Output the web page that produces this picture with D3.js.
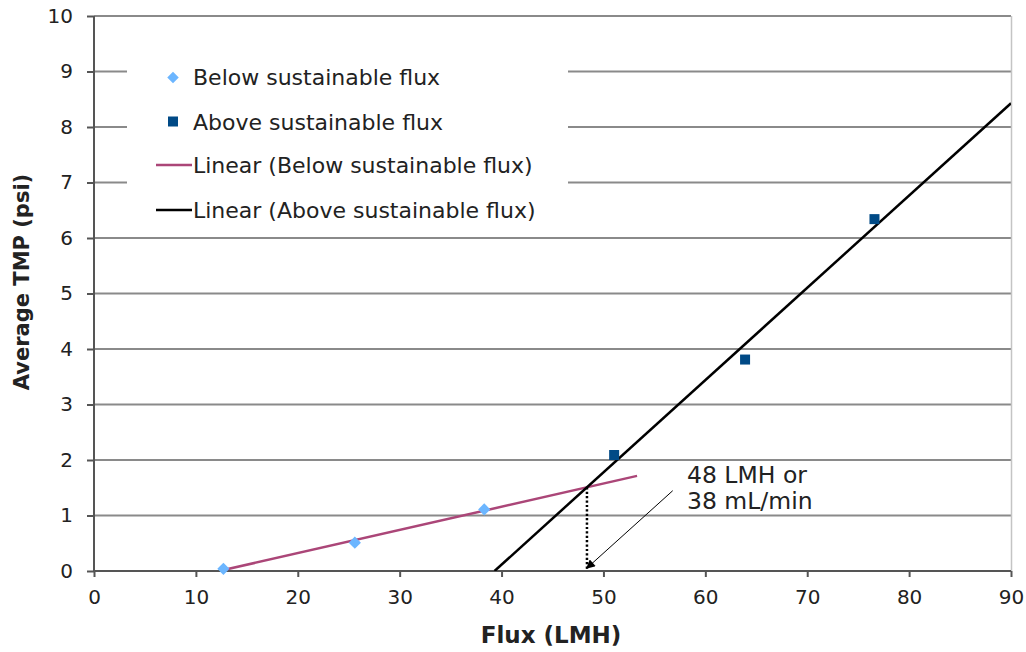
<!DOCTYPE html>
<html>
<head>
<meta charset="utf-8">
<script src="https://cdn.jsdelivr.net/npm/d3@7/dist/d3.min.js"></script>
<style>
  html, body { margin: 0; padding: 0; background: #fff; }
  svg { display: block; font-family: "DejaVu Sans", Verdana, sans-serif; }
</style>
</head>
<body>
<svg id="chart" width="1026" height="652"></svg>
<script>
// Flux measurements below and above the sustainable flux
const belowFlux = [12.7, 25.6, 38.3];
const belowTMP  = [0.04, 0.51, 1.11];
const aboveFlux = [51.05, 63.9, 76.6];
const aboveTMP  = [2.09, 3.81, 6.34];

const xTicks = [0, 10, 20, 30, 40, 50, 60, 70, 80, 90];
const yTicks = [0, 1, 2, 3, 4, 5, 6, 7, 8, 9, 10];

const legendLabels = [
  "Below sustainable flux",
  "Above sustainable flux",
  "Linear (Below sustainable flux)",
  "Linear (Above sustainable flux)"
];
const noteLines = ["48 LMH or", "38 mL/min"];
// below-flux fit is projected forward to this flux
const belowTrendEnd = 53.3;

const colors = {
  below: "#6cb6ff",
  above: "#004a86",
  belowFit: "#ab4678",
  aboveFit: "#000000",
  grid: "#8a8a8a",
  axis: "#555555",
  text: "#222222"
};

const svg = d3.select("#chart");
const plotL = 94, plotR = 1011, plotT = 16, plotB = 571;

const x = d3.scaleLinear().domain([0, 90]).range([plotL, plotR]);
const y = d3.scaleLinear().domain([0, 10]).range([plotB, plotT]);

// least-squares fit
function fit(xs, ys) {
  const n = xs.length;
  const mx = d3.mean(xs), my = d3.mean(ys);
  let sxy = 0, sxx = 0;
  for (let i = 0; i < n; i++) {
    sxy += (xs[i] - mx) * (ys[i] - my);
    sxx += (xs[i] - mx) * (xs[i] - mx);
  }
  const m = sxy / sxx;
  return { m, b: my - m * mx };
}
const fb = fit(belowFlux, belowTMP);
const fa = fit(aboveFlux, aboveTMP);
const xCross = (fa.b - fb.b) / (fb.m - fa.m);
const yCross = fb.m * xCross + fb.b;

// horizontal gridlines
svg.append("g").selectAll("line").data(yTicks.filter(d => d > 0)).join("line")
  .attr("x1", plotL).attr("x2", plotR)
  .attr("y1", d => y(d)).attr("y2", d => y(d))
  .attr("stroke", colors.grid).attr("stroke-width", 2);

// right border
svg.append("line")
  .attr("x1", plotR + 0.5).attr("x2", plotR + 0.5)
  .attr("y1", y(10)).attr("y2", y(0))
  .attr("stroke", "#c4c4c4").attr("stroke-width", 1.5);

// axes
const yAxis = d3.axisLeft(y).tickValues(yTicks).tickSize(7).tickPadding(14).tickFormat(d3.format("d"));
const xAxis = d3.axisBottom(x).tickValues(xTicks).tickSize(6).tickPadding(13).tickFormat(d3.format("d"));

const gy = svg.append("g").attr("transform", `translate(${plotL},0)`).call(yAxis);
const gx = svg.append("g").attr("transform", `translate(0,${plotB})`).call(xAxis);
[gx, gy].forEach(g => {
  g.select(".domain").attr("stroke", colors.axis).attr("stroke-width", 2);
  g.selectAll(".tick line").attr("stroke", colors.axis).attr("stroke-width", 2);
  g.selectAll(".tick text").attr("fill", colors.text)
    .style("font-size", "20px").style("font-family", "DejaVu Sans, Verdana, sans-serif");
});
gy.select(".domain").attr("d", `M0,${y(10)}V${y(0)}`);
gx.select(".domain").attr("d", `M${plotL},0H${plotR}`);

// legend panel (covers gridlines behind it)
const lg = svg.append("g");
lg.append("rect").attr("x", 127).attr("y", 52).attr("width", 441).attr("height", 176).attr("fill", "#fff");
const markY = [77.5, 121.5, 165, 210];
const textY = [85, 130, 173, 218];
lg.append("path")
  .attr("d", d3.symbol().type(d3.symbolDiamond2 || d3.symbolDiamond).size(85)())
  .attr("transform", `translate(173,${markY[0]})`).attr("fill", colors.below);
lg.append("rect").attr("x", 168).attr("y", markY[1] - 5).attr("width", 10).attr("height", 10).attr("fill", colors.above);
lg.append("line").attr("x1", 156).attr("x2", 192).attr("y1", markY[2]).attr("y2", markY[2])
  .attr("stroke", colors.belowFit).attr("stroke-width", 2.5);
lg.append("line").attr("x1", 156).attr("x2", 192).attr("y1", markY[3]).attr("y2", markY[3])
  .attr("stroke", colors.aboveFit).attr("stroke-width", 2.5);
lg.selectAll("text").data(legendLabels).join("text")
  .attr("x", 193).attr("y", (d, i) => textY[i])
  .attr("fill", colors.text).style("font-size", "22px").text(d => d);

// data + fits clipped to plot area
svg.append("clipPath").attr("id", "plot")
  .append("rect").attr("x", plotL).attr("y", plotT).attr("width", plotR - plotL).attr("height", plotB - plotT);
const plot = svg.append("g").attr("clip-path", "url(#plot)");

// below-flux trend line
plot.append("line")
  .attr("x1", x(belowFlux[0])).attr("y1", y(fb.m * belowFlux[0] + fb.b))
  .attr("x2", x(belowTrendEnd)).attr("y2", y(fb.m * belowTrendEnd + fb.b))
  .attr("stroke", colors.belowFit).attr("stroke-width", 2.5);

// above-flux trend line, projected back to zero TMP
const xZero = -fa.b / fa.m;
plot.append("line")
  .attr("x1", x(xZero)).attr("y1", y(0))
  .attr("x2", x(90)).attr("y2", y(fa.m * 90 + fa.b))
  .attr("stroke", colors.aboveFit).attr("stroke-width", 2.5);

// markers
svg.append("g").selectAll("path").data(belowFlux).join("path")
  .attr("d", d3.symbol().type(d3.symbolDiamond2 || d3.symbolDiamond).size(95)())
  .attr("transform", (d, i) => `translate(${x(d)},${y(belowTMP[i])})`)
  .attr("fill", colors.below);
svg.append("g").selectAll("rect").data(aboveFlux).join("rect")
  .attr("x", d => x(d) - 5).attr("y", (d, i) => y(aboveTMP[i]) - 5)
  .attr("width", 10).attr("height", 10).attr("fill", colors.above);

// dotted drop line from the intersection
svg.append("line")
  .attr("x1", x(xCross)).attr("x2", x(xCross))
  .attr("y1", y(yCross)).attr("y2", y(0) - 2)
  .attr("stroke", "#000").attr("stroke-width", 2.5).attr("stroke-dasharray", "2.2,2.2");

// annotation arrow
svg.append("defs").append("marker").attr("id", "arrowhead")
  .attr("viewBox", "0 0 10 10").attr("refX", 9).attr("refY", 5)
  .attr("markerWidth", 10).attr("markerHeight", 9).attr("orient", "auto")
  .attr("markerUnits", "userSpaceOnUse")
  .append("path").attr("d", "M0,0L10,5L0,10z").attr("fill", "#000");
svg.append("line")
  .attr("x1", x(56.8)).attr("y1", y(1.447))
  .attr("x2", x(48.36)).attr("y2", y(0.05))
  .attr("stroke", "#000").attr("stroke-width", 1).attr("marker-end", "url(#arrowhead)");

svg.append("g").selectAll("text").data(noteLines).join("text")
  .attr("x", 687).attr("y", (d, i) => 483 + i * 26)
  .attr("fill", colors.text).style("font-size", "23.5px").text(d => d);

// axis titles
svg.append("text")
  .attr("x", 551).attr("y", 643).attr("text-anchor", "middle")
  .attr("fill", colors.text).style("font-size", "23px").style("font-weight", "bold")
  .text("Flux (LMH)");
svg.append("text")
  .attr("transform", "translate(29,282) rotate(-90)").attr("text-anchor", "middle")
  .attr("fill", colors.text).style("font-size", "21px").style("font-weight", "bold")
  .text("Average TMP (psi)");
</script>
</body>
</html>
